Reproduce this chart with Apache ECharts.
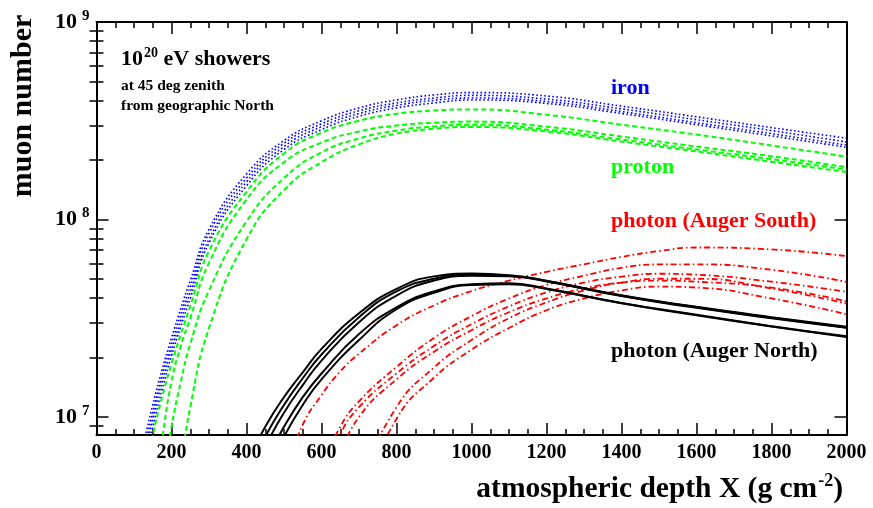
<!DOCTYPE html>
<html>
<head>
<meta charset="utf-8">
<script src="https://cdn.jsdelivr.net/npm/echarts@6/dist/echarts.min.js"></script>
<style>
html, body { margin: 0; padding: 0; background: #fff; }
#main { width: 873px; height: 508px; }
</style>
</head>
<body>
<div id="main"></div>
<script>
// atmospheric depth grids (g cm^-2)
var depthHadron = [125, 150, 175, 200, 225, 250, 300, 400, 500, 600, 700, 800, 900, 1000, 1200, 1400, 1600, 1800, 2000];
var depthNorth = [400, 450, 500, 550, 600, 700, 800, 900, 1000, 1100, 1200, 1400, 1600, 1800, 2000];
var depthSouth = [500, 550, 600, 650, 700, 800, 900, 1000, 1100, 1200, 1300, 1400, 1500, 1600, 1800, 2000];

// muon number, in millions
var iron1 = [7.24, 11.5, 17.4, 25.1, 35.5, 49.0, 89.1, 170, 251, 316, 367, 403, 427, 439, 422, 375, 331, 292, 258];
var iron2 = [6.61, 10.5, 16.2, 23.4, 33.1, 45.7, 85.1, 162, 243, 305, 355, 389, 412, 425, 407, 363, 320, 282, 247];
var iron3 = [6.03, 9.77, 15.1, 21.9, 30.9, 42.7, 79.4, 155, 234, 295, 344, 378, 401, 412, 396, 352, 309, 272, 238];
var iron4 = [5.50, 8.91, 13.8, 20.4, 28.8, 39.8, 75.9, 148, 226, 285, 333, 367, 389, 403, 387, 344, 302, 265, 232];

var proton1 = [3.98, 7.94, 12.6, 18.6, 26.3, 36.3, 69.2, 138, 216, 275, 316, 343, 356, 361, 339, 302, 269, 237, 208];
var proton2 = [1.26, 3.16, 7.59, 15.1, 22.9, 31.6, 60.3, 126, 195, 245, 279, 299, 309, 313, 295, 263, 234, 209, 184];
var proton3 = [0.79, 2.00, 4.47, 8.91, 15.1, 23.4, 43.7, 97.7, 162, 219, 257, 282, 296, 302, 285, 254, 226, 202, 179];
var proton4 = [0.28, 0.63, 1.32, 2.82, 5.62, 11.2, 28.2, 79.4, 141, 195, 240, 272, 288, 294, 279, 248, 221, 196, 174];

var north1 = [5.75, 8.91, 12.6, 16.8, 22.1, 33.5, 44.5, 51.5, 53.2, 52.2, 49.0, 41.3, 36.1, 32.0, 28.6];
var north2 = [5.01, 7.94, 11.5, 15.7, 20.7, 32.0, 43.2, 50.1, 52.5, 51.9, 48.8, 41.1, 35.9, 31.8, 28.4];
var north3 = [4.37, 7.08, 10.5, 14.5, 19.3, 30.2, 41.2, 49.0, 51.8, 51.5, 48.5, 40.9, 35.7, 31.6, 28.3];
var north4 = [3.55, 5.89, 8.91, 12.6, 16.6, 26.3, 35.9, 43.2, 47.0, 47.6, 44.7, 37.8, 32.9, 28.8, 25.6];
var north5 = [2.82, 5.01, 7.94, 11.5, 15.5, 24.5, 35.1, 42.5, 46.6, 47.0, 44.4, 37.6, 32.7, 28.7, 25.4];

var south1 = [5.01, 9.12, 12.9, 17.0, 20.9, 29.1, 36.7, 43.4, 49.0, 54.3, 59.3, 64.6, 69.2, 72.1, 70.5, 65.2];
var south2 = [1.58, 3.16, 5.50, 8.91, 12.0, 17.9, 25.1, 32.4, 39.8, 46.6, 51.9, 56.9, 59.2, 59.3, 55.6, 48.3];
var south3 = [1.26, 2.51, 4.47, 8.13, 11.2, 16.6, 22.9, 29.5, 36.3, 42.7, 47.9, 51.3, 53.1, 52.5, 48.4, 43.0];
var south4 = [0.40, 0.79, 1.41, 2.51, 4.47, 11.2, 17.8, 24.5, 31.6, 38.0, 43.7, 47.9, 50.1, 50.1, 44.7, 37.5];
var south5 = [0.32, 0.63, 1.12, 2.00, 3.55, 9.77, 15.8, 21.9, 28.2, 34.7, 39.8, 43.7, 45.7, 45.2, 39.8, 33.1];
var south6 = [1.00, 2.00, 3.55, 6.31, 10.0, 15.5, 21.4, 27.5, 33.9, 39.8, 44.7, 47.9, 49.0, 48.4, 45.2, 38.5];

// log axis minor ticks
var yMinorTicks = [9e6, 2e7, 3e7, 4e7, 5e7, 6e7, 7e7, 8e7, 9e7, 2e8, 3e8, 4e8, 5e8, 6e8, 7e8, 8e8, 9e8];

var FONT = 'Liberation Serif';

function curve(xs, ys, color, dash, width) {
    return {
        type: 'line',
        data: xs.map(function (x, i) { return [x, ys[i] * 1e6]; }),
        showSymbol: false,
        smooth: 0.5,
        silent: true,
        lineStyle: { color: color, type: dash, width: width }
    };
}

var dotted = [1.6, 2.4], dashed = [5, 3], dashDot = [6, 3, 1.5, 3];

var series = [
    curve(depthHadron, iron1, '#0000ff', dotted, 1.6),
    curve(depthHadron, iron2, '#0000ff', dotted, 1.6),
    curve(depthHadron, iron3, '#0000ff', dotted, 1.6),
    curve(depthHadron, iron4, '#0000ff', dotted, 1.6),
    curve(depthHadron, proton1, '#00ff00', dashed, 2),
    curve(depthHadron, proton2, '#00ff00', dashed, 2),
    curve(depthHadron, proton3, '#00ff00', dashed, 2),
    curve(depthHadron, proton4, '#00ff00', dashed, 2),
    curve(depthSouth, south1, '#ff0000', dashDot, 1.8),
    curve(depthSouth, south2, '#ff0000', dashDot, 1.8),
    curve(depthSouth, south3, '#ff0000', dashDot, 1.8),
    curve(depthSouth, south4, '#ff0000', dashDot, 1.8),
    curve(depthSouth, south5, '#ff0000', dashDot, 1.8),
    curve(depthSouth, south6, '#ff0000', dashDot, 1.8),
    curve(depthNorth, north1, '#000000', 'solid', 2),
    curve(depthNorth, north2, '#000000', 'solid', 2),
    curve(depthNorth, north3, '#000000', 'solid', 2),
    curve(depthNorth, north4, '#000000', 'solid', 2),
    curve(depthNorth, north5, '#000000', 'solid', 2)
];

var frame = { show: true, onZero: false, lineStyle: { color: '#000', width: 2 } };
var tickStyle = { color: '#000', width: 1.5 };

function xAxisDef(pos, labels) {
    return {
        type: 'value', position: pos, min: 0, max: 2000, interval: 200,
        axisLine: frame,
        axisTick: { inside: true, length: 12, lineStyle: tickStyle },
        minorTick: { show: true, splitNumber: 4, length: 6, lineStyle: tickStyle },
        axisLabel: {
            show: labels, fontFamily: FONT, fontWeight: 'bold', fontSize: 20, color: '#000', margin: 8,
            formatter: function (v) { return String(v); }
        },
        splitLine: { show: false }
    };
}

function yMajor(pos, labels) {
    return {
        type: 'log', logBase: 10, position: pos, min: 8.1e6, max: 1e9,
        axisLine: frame,
        axisTick: { inside: true, length: 12, lineStyle: tickStyle },
        axisLabel: {
            show: labels, showMinLabel: false, margin: 7, color: '#000',
            formatter: function (v) { return '{a|10}{b|' + Math.round(Math.log10(v)) + '}'; },
            rich: {
                a: { fontFamily: FONT, fontWeight: 'bold', fontSize: 22, color: '#000' },
                b: { fontFamily: FONT, fontWeight: 'bold', fontSize: 15, color: '#000', padding: [0, 0, 12, 5] }
            }
        },
        splitLine: { show: false }
    };
}

function yMinor(pos) {
    return {
        type: 'log', logBase: 10, position: pos, min: 8.1e6, max: 1e9,
        axisLine: { show: false },
        axisTick: { inside: true, length: 7, lineStyle: tickStyle, customValues: yMinorTicks },
        axisLabel: { show: false },
        splitLine: { show: false }
    };
}

var textBase = { fontFamily: FONT, fontWeight: 'bold' };

var chart = echarts.init(document.getElementById('main'));
chart.setOption({
    animation: false,
    backgroundColor: '#fff',
    grid: { left: 96.5, right: 26.5, top: 22, bottom: 73 },
    xAxis: [xAxisDef('bottom', true), xAxisDef('top', false)],
    yAxis: [yMajor('left', true), yMinor('left'), yMajor('right', false), yMinor('right')],
    series: series,
    graphic: [
        {
            type: 'text', x: 121, y: 59,
            style: {
                text: '{a|10}{b|20}{a| eV showers}', verticalAlign: 'middle',
                rich: {
                    a: { fontFamily: FONT, fontWeight: 'bold', fontSize: 22, fill: '#000' },
                    b: { fontFamily: FONT, fontWeight: 'bold', fontSize: 14, fill: '#000', padding: [0, 0, 12, 1] }
                }
            }
        },
        { type: 'text', x: 121, y: 86, style: Object.assign({ text: 'at 45 deg zenith', fontSize: 15.5, fill: '#000', verticalAlign: 'middle' }, textBase) },
        { type: 'text', x: 121, y: 106, style: Object.assign({ text: 'from geographic North', fontSize: 15.5, fill: '#000', verticalAlign: 'middle' }, textBase) },
        { type: 'text', x: 611, y: 88, style: Object.assign({ text: 'iron', fontSize: 22, fill: '#0000ff', verticalAlign: 'middle' }, textBase) },
        { type: 'text', x: 611, y: 167, style: Object.assign({ text: 'proton', fontSize: 22, fill: '#00ff00', verticalAlign: 'middle' }, textBase) },
        { type: 'text', x: 611, y: 221, style: Object.assign({ text: 'photon (Auger South)', fontSize: 22, fill: '#ff0000', verticalAlign: 'middle' }, textBase) },
        { type: 'text', x: 611, y: 351, style: Object.assign({ text: 'photon (Auger North)', fontSize: 22, fill: '#000', verticalAlign: 'middle' }, textBase) },
        {
            type: 'text', x: 23, y: 106, rotation: Math.PI / 2,
            style: Object.assign({ text: 'muon number', fontSize: 30, fill: '#000', align: 'center', verticalAlign: 'middle' }, textBase)
        },
        {
            type: 'text', x: 843, y: 489,
            style: {
                text: '{a|atmospheric depth X (g cm}{b|-2}{a|)}', align: 'right', verticalAlign: 'middle',
                rich: {
                    a: { fontFamily: FONT, fontWeight: 'bold', fontSize: 29.5, fill: '#000' },
                    b: { fontFamily: FONT, fontWeight: 'bold', fontSize: 18, fill: '#000', padding: [0, 0, 15, 1] }
                }
            }
        }
    ]
});
</script>
</body>
</html>
